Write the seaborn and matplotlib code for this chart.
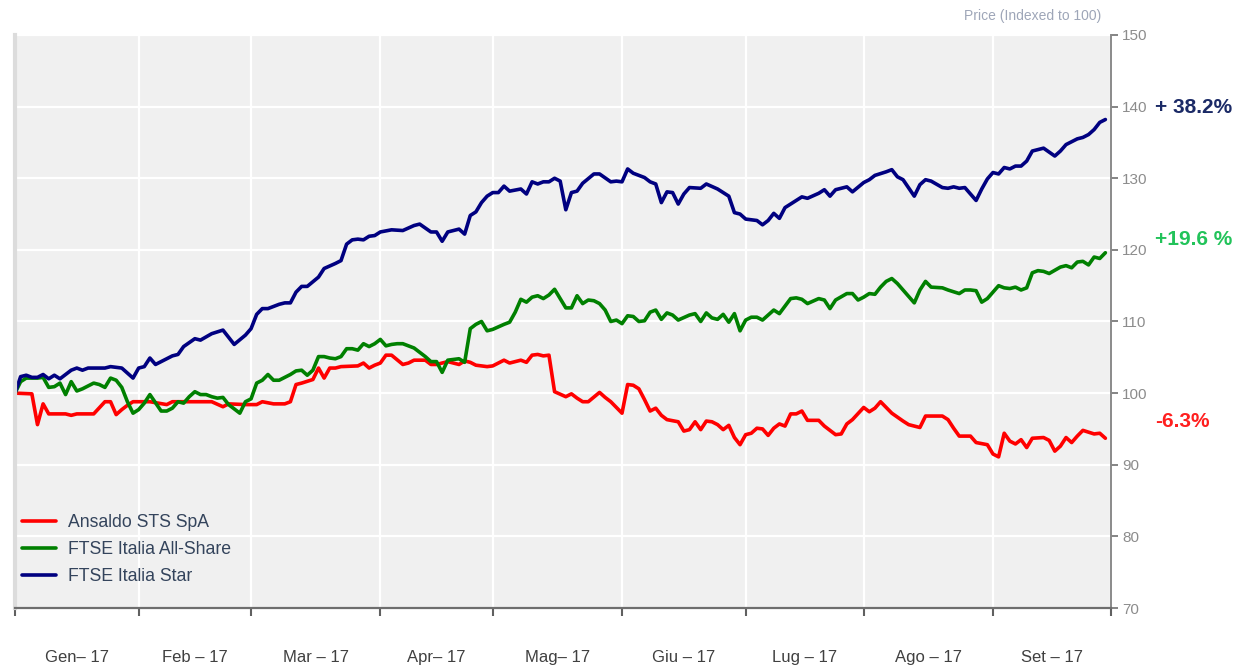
import pandas as pd
import seaborn as sns
import matplotlib.pyplot as plt
import matplotlib.transforms as mtransforms

# trading sessions (Mon-Fri) covered by the chart
sessions = pd.bdate_range("2017-01-02", "2017-09-29")

series_names = ["Ansaldo STS SpA", "FTSE Italia All-Share", "FTSE Italia Star"]
series_colors = ["#ff0000", "#008000", "#000080"]
month_labels = ["Gen\u2013 17", "Feb \u2013 17", "Mar \u2013 17", "Apr\u2013 17", "Mag\u2013 17",
                "Giu \u2013 17", "Lug \u2013 17", "Ago \u2013 17", "Set \u2013 17"]
end_labels = ["-6.3%", "+19.6 %", "+ 38.2%"]

# session number (0 = 2 Jan 2017) and indexed price
ansaldo_day = [0, 3, 4, 5, 6, 9, 10, 11, 14, 16, 17, 18, 19, 20, 21, 24, 27, 28, 35, 37, 38, 41, 43,
               44, 46, 48, 49, 50, 51, 53, 54, 55, 56, 57, 58, 61, 62, 63, 64, 65, 66, 67, 69, 70,
               71, 73, 74, 75, 77, 78, 79, 80, 81, 82, 84, 85, 87, 88, 90, 91, 92, 93, 94, 95, 96,
               98, 99, 100, 101, 102, 104, 105, 106, 108, 109, 110, 111, 112, 113, 114, 115, 116,
               118, 119, 120, 121, 122, 123, 124, 125, 126, 127, 128, 129, 130, 131, 132, 133, 134,
               135, 136, 137, 138, 139, 140, 141, 143, 144, 146, 147, 148, 149, 151, 152, 153, 154,
               155, 156, 158, 159, 161, 162, 165, 166, 167, 168, 170, 171, 173, 174, 175, 176, 177,
               178, 179, 180, 181, 183, 184, 185, 186, 187, 188, 189, 190, 192, 193, 194]
ansaldo_val = [100.0, 99.9, 95.6, 98.5, 97.1, 97.1, 96.9, 97.1, 97.1, 98.8, 98.8, 97.0, 97.7, 98.3,
               98.8, 98.8, 98.4, 98.8, 98.8, 98.1, 98.5, 98.4, 98.4, 98.8, 98.5, 98.5, 98.8, 101.2,
               101.4, 101.9, 103.5, 102.1, 103.5, 103.5, 103.7, 103.8, 104.2, 103.5, 103.9, 104.2,
               105.3, 105.3, 104.0, 104.2, 104.6, 104.6, 104.0, 104.0, 104.4, 104.2, 104.0, 104.5,
               104.3, 103.9, 103.7, 103.8, 104.6, 104.2, 104.6, 104.3, 105.3, 105.4, 105.2, 105.3,
               100.2, 99.5, 99.9, 99.3, 98.8, 98.8, 100.1, 99.4, 98.8, 97.2, 101.2, 101.1, 100.6,
               99.1, 97.5, 97.9, 96.9, 96.3, 96.0, 94.7, 94.9, 96.0, 94.9, 96.1, 96.0, 95.6, 94.9,
               95.5, 93.8, 92.8, 94.2, 94.4, 95.1, 95.0, 94.1, 95.1, 95.7, 95.4, 97.1, 97.1, 97.5,
               96.2, 96.2, 95.4, 94.2, 94.3, 95.7, 96.3, 98.0, 97.4, 97.9, 98.8, 98.0, 97.2, 96.1,
               95.6, 95.2, 96.8, 96.8, 96.3, 95.1, 94.0, 94.0, 93.1, 92.8, 91.5, 91.1, 94.4, 93.3,
               92.9, 93.5, 92.4, 93.7, 93.8, 93.4, 91.9, 92.6, 93.8, 93.1, 94.0, 94.8, 94.3, 94.4,
               93.7]

allshare_day = [0, 1, 2, 3, 4, 5, 6, 7, 8, 9, 10, 11, 12, 14, 15, 16, 17, 18, 19, 20, 21, 22, 23, 24,
                26, 27, 28, 29, 30, 31, 32, 33, 34, 35, 36, 37, 38, 40, 41, 42, 43, 44, 45, 46, 47,
                48, 49, 50, 51, 52, 53, 54, 55, 56, 57, 58, 59, 60, 61, 62, 63, 64, 65, 66, 67, 68,
                69, 71, 72, 73, 74, 75, 76, 77, 79, 80, 81, 82, 83, 84, 85, 87, 88, 89, 90, 91, 92,
                93, 94, 95, 96, 98, 99, 100, 101, 102, 103, 104, 105, 106, 107, 108, 109, 110, 111,
                112, 113, 114, 115, 116, 117, 118, 120, 121, 122, 123, 124, 125, 126, 127, 128, 129,
                130, 131, 132, 133, 134, 135, 136, 138, 139, 140, 141, 143, 144, 145, 146, 148, 149,
                150, 151, 152, 153, 154, 155, 156, 157, 158, 160, 161, 162, 163, 165, 166, 168, 169,
                170, 171, 172, 173, 174, 175, 176, 177, 178, 179, 180, 181, 182, 183, 184, 186, 187,
                188, 189, 190, 191, 192, 193, 194]
allshare_val = [100.0, 101.6, 102.1, 102.1, 102.1, 102.2, 100.8, 100.9, 101.4, 99.8, 101.6, 100.3,
                100.6, 101.4, 101.2, 100.8, 102.1, 101.8, 100.8, 98.8, 97.2, 97.7, 98.6, 99.8, 97.5,
                97.5, 97.9, 98.8, 98.6, 99.5, 100.2, 99.8, 99.8, 99.5, 99.3, 99.4, 98.4, 97.2, 98.8,
                99.2, 101.4, 101.8, 102.6, 101.8, 101.8, 102.2, 102.6, 103.1, 103.2, 102.5, 103.2,
                105.1, 105.1, 104.9, 104.8, 105.1, 106.2, 106.2, 106.0, 106.9, 106.5, 106.9, 107.5,
                106.6, 106.8, 106.9, 106.9, 106.3, 105.7, 105.1, 104.4, 104.4, 102.9, 104.6, 104.8,
                104.3, 109.0, 109.6, 110.0, 108.7, 108.9, 109.6, 109.9, 111.3, 113.1, 112.7, 113.4,
                113.6, 113.2, 113.7, 114.5, 111.9, 111.9, 113.6, 112.5, 113.0, 112.9, 112.5, 111.6,
                110.0, 110.2, 109.7, 110.8, 110.7, 110.0, 110.1, 111.3, 111.6, 110.3, 111.2, 110.9,
                110.2, 110.9, 111.1, 110.0, 111.2, 110.5, 110.3, 111.0, 109.9, 111.1, 108.7, 110.2,
                110.6, 110.6, 110.2, 110.9, 111.6, 111.1, 113.2, 113.3, 113.1, 112.5, 113.2, 113.0,
                111.8, 113.0, 113.9, 113.9, 113.0, 113.4, 113.9, 113.8, 114.8, 115.6, 116.0, 115.3,
                114.4, 112.6, 114.4, 115.6, 114.8, 114.7, 114.4, 113.9, 114.4, 114.4, 114.3, 112.7,
                113.2, 114.1, 115.0, 114.7, 114.6, 114.8, 114.4, 114.7, 116.8, 117.1, 117.0, 116.7,
                117.6, 117.8, 117.5, 118.3, 118.4, 117.9, 119.0, 118.8, 119.6]

star_day = [0, 1, 2, 3, 4, 5, 6, 7, 8, 10, 11, 12, 13, 14, 16, 17, 19, 20, 21, 22, 23, 24, 25, 26,
            28, 29, 30, 32, 33, 35, 37, 39, 41, 42, 43, 44, 45, 47, 48, 49, 50, 51, 52, 54, 55, 57,
            58, 59, 60, 61, 62, 63, 64, 65, 67, 69, 71, 72, 74, 75, 76, 77, 79, 80, 81, 82, 83, 84,
            85, 86, 87, 88, 90, 91, 92, 93, 94, 95, 96, 97, 98, 99, 100, 101, 103, 104, 106, 107,
            108, 109, 110, 112, 113, 114, 115, 116, 117, 118, 119, 120, 122, 123, 125, 126, 127,
            128, 129, 130, 132, 133, 134, 135, 136, 137, 139, 140, 141, 143, 144, 145, 146, 148,
            149, 151, 152, 153, 155, 156, 157, 158, 160, 161, 162, 163, 165, 166, 167, 168, 169,
            170, 171, 172, 173, 174, 175, 176, 177, 178, 179, 180, 181, 183, 185, 186, 187, 189,
            190, 191, 192, 193, 194]
star_val = [100.0, 102.3, 102.5, 102.2, 102.2, 102.6, 102.0, 102.5, 102.0, 103.2, 103.5, 103.2,
            103.5, 103.5, 103.5, 103.7, 103.5, 102.8, 102.1, 103.5, 103.7, 104.9, 104.0, 104.4,
            105.2, 105.4, 106.5, 107.6, 107.4, 108.3, 108.8, 106.8, 108.1, 109.0, 111.0, 111.8,
            111.8, 112.4, 112.6, 112.6, 114.1, 114.9, 114.9, 116.2, 117.4, 118.1, 118.5, 120.8,
            121.4, 121.5, 121.4, 121.9, 122.0, 122.5, 122.8, 122.7, 123.4, 123.6, 122.5, 122.5,
            121.2, 122.5, 122.9, 122.2, 124.8, 125.3, 126.6, 127.5, 128.0, 128.0, 128.9, 128.2,
            128.5, 127.8, 129.5, 129.2, 129.5, 129.5, 130.0, 129.6, 125.6, 128.0, 128.2, 129.3,
            130.6, 130.6, 129.5, 129.6, 129.5, 131.3, 130.7, 130.1, 129.5, 129.2, 126.6, 128.1,
            128.0, 126.4, 127.8, 128.7, 128.6, 129.2, 128.5, 128.0, 127.5, 125.2, 125.0, 124.3,
            124.1, 123.5, 124.1, 125.1, 124.4, 125.9, 126.9, 127.4, 127.2, 127.9, 128.4, 127.5,
            128.4, 128.8, 128.1, 129.4, 129.8, 130.4, 130.9, 131.2, 130.2, 129.8, 127.5, 129.1,
            129.8, 129.6, 128.7, 128.6, 128.8, 128.6, 128.7, 127.8, 126.9, 128.5, 129.9, 130.8,
            130.6, 131.5, 131.3, 131.7, 131.7, 132.4, 133.8, 134.2, 133.1, 133.8, 134.7, 135.5,
            135.7, 136.1, 136.8, 137.8, 138.2]

frames = []
for name, days, vals in zip(series_names,
                            [ansaldo_day, allshare_day, star_day],
                            [ansaldo_val, allshare_val, star_val]):
    frames.append(pd.DataFrame({"session": days, "date": sessions[days],
                                "value": vals, "series": name}))
df = pd.concat(frames, ignore_index=True)

sns.set_theme(style="white")
plt.rcParams["font.family"] = ["Liberation Sans", "DejaVu Sans"]

fig = plt.figure(figsize=(12.55, 6.65), dpi=100)
ax = fig.add_axes([15 / 1255, 57 / 665, 1096 / 1255, 573 / 665])
ax.set_facecolor("#f0f0f0")

sns.lineplot(data=df, x="session", y="value", hue="series", hue_order=series_names,
             palette=series_colors, estimator=None, linewidth=2.6, ax=ax)

# month boundaries = first trading session of each month
month_start = [i for i in range(len(sessions)) if i == 0 or sessions[i].month != sessions[i - 1].month]
bounds = month_start + [len(sessions)]
mids = [(a + b) / 2 for a, b in zip(bounds[:-1], bounds[1:])]

ax.set_xlim(0, len(sessions))
ax.set_ylim(70, 150)
ax.set_xticks(bounds)
ax.set_xticklabels([])
ax.set_xticks(mids, minor=True)
ax.set_xticklabels(month_labels, minor=True)
ax.tick_params(axis="x", which="major", bottom=True, length=6, width=1.5, color="#606060")
ax.tick_params(axis="x", which="minor", bottom=False, length=0, pad=30,
               labelsize=12, labelcolor="#404040")

ax.yaxis.tick_right()
ax.set_yticks(range(70, 151, 10))
ax.tick_params(axis="y", right=True, length=5, width=1.2, color="#707070",
               labelsize=11, labelcolor="#8c8c8c", pad=3)

ax.grid(True, which="major", color="white", linewidth=1.6)
ax.set_xlabel("")
ax.set_ylabel("")

ax.spines["top"].set_visible(False)
ax.spines["bottom"].set_color("#6e6e6e")
ax.spines["bottom"].set_linewidth(1.6)
ax.spines["right"].set_color("#8a8a8a")
ax.spines["right"].set_linewidth(1.4)
ax.spines["left"].set_color("#dcdcdc")
ax.spines["left"].set_linewidth(3)

ax.text(1.0 - 10 / 1096, 1.0 + 12 / 573, "Price (Indexed to 100)", transform=ax.transAxes,
        ha="right", va="bottom", fontsize=10, color="#9ea6b8")

trans = mtransforms.blended_transform_factory(ax.transAxes, ax.transData)
label_colors = ["#ff1f1f", "#22c35a", "#1b2a66"]
label_y = [96.1, 121.5, 139.9]
for txt, col, yv in zip(end_labels, label_colors, label_y):
    ax.text(1.04, yv, txt, transform=trans, ha="left", va="center",
            fontsize=15, fontweight="bold", color=col)

leg = ax.legend(loc="lower left", bbox_to_anchor=(-0.003, 0.022), frameon=False, fontsize=12.7,
                handlelength=1.9, handletextpad=0.7, labelspacing=0.55, borderaxespad=0.2)
for t in leg.get_texts():
    t.set_color("#34445c")

fig.savefig("out.png", dpi=100, facecolor="white")
